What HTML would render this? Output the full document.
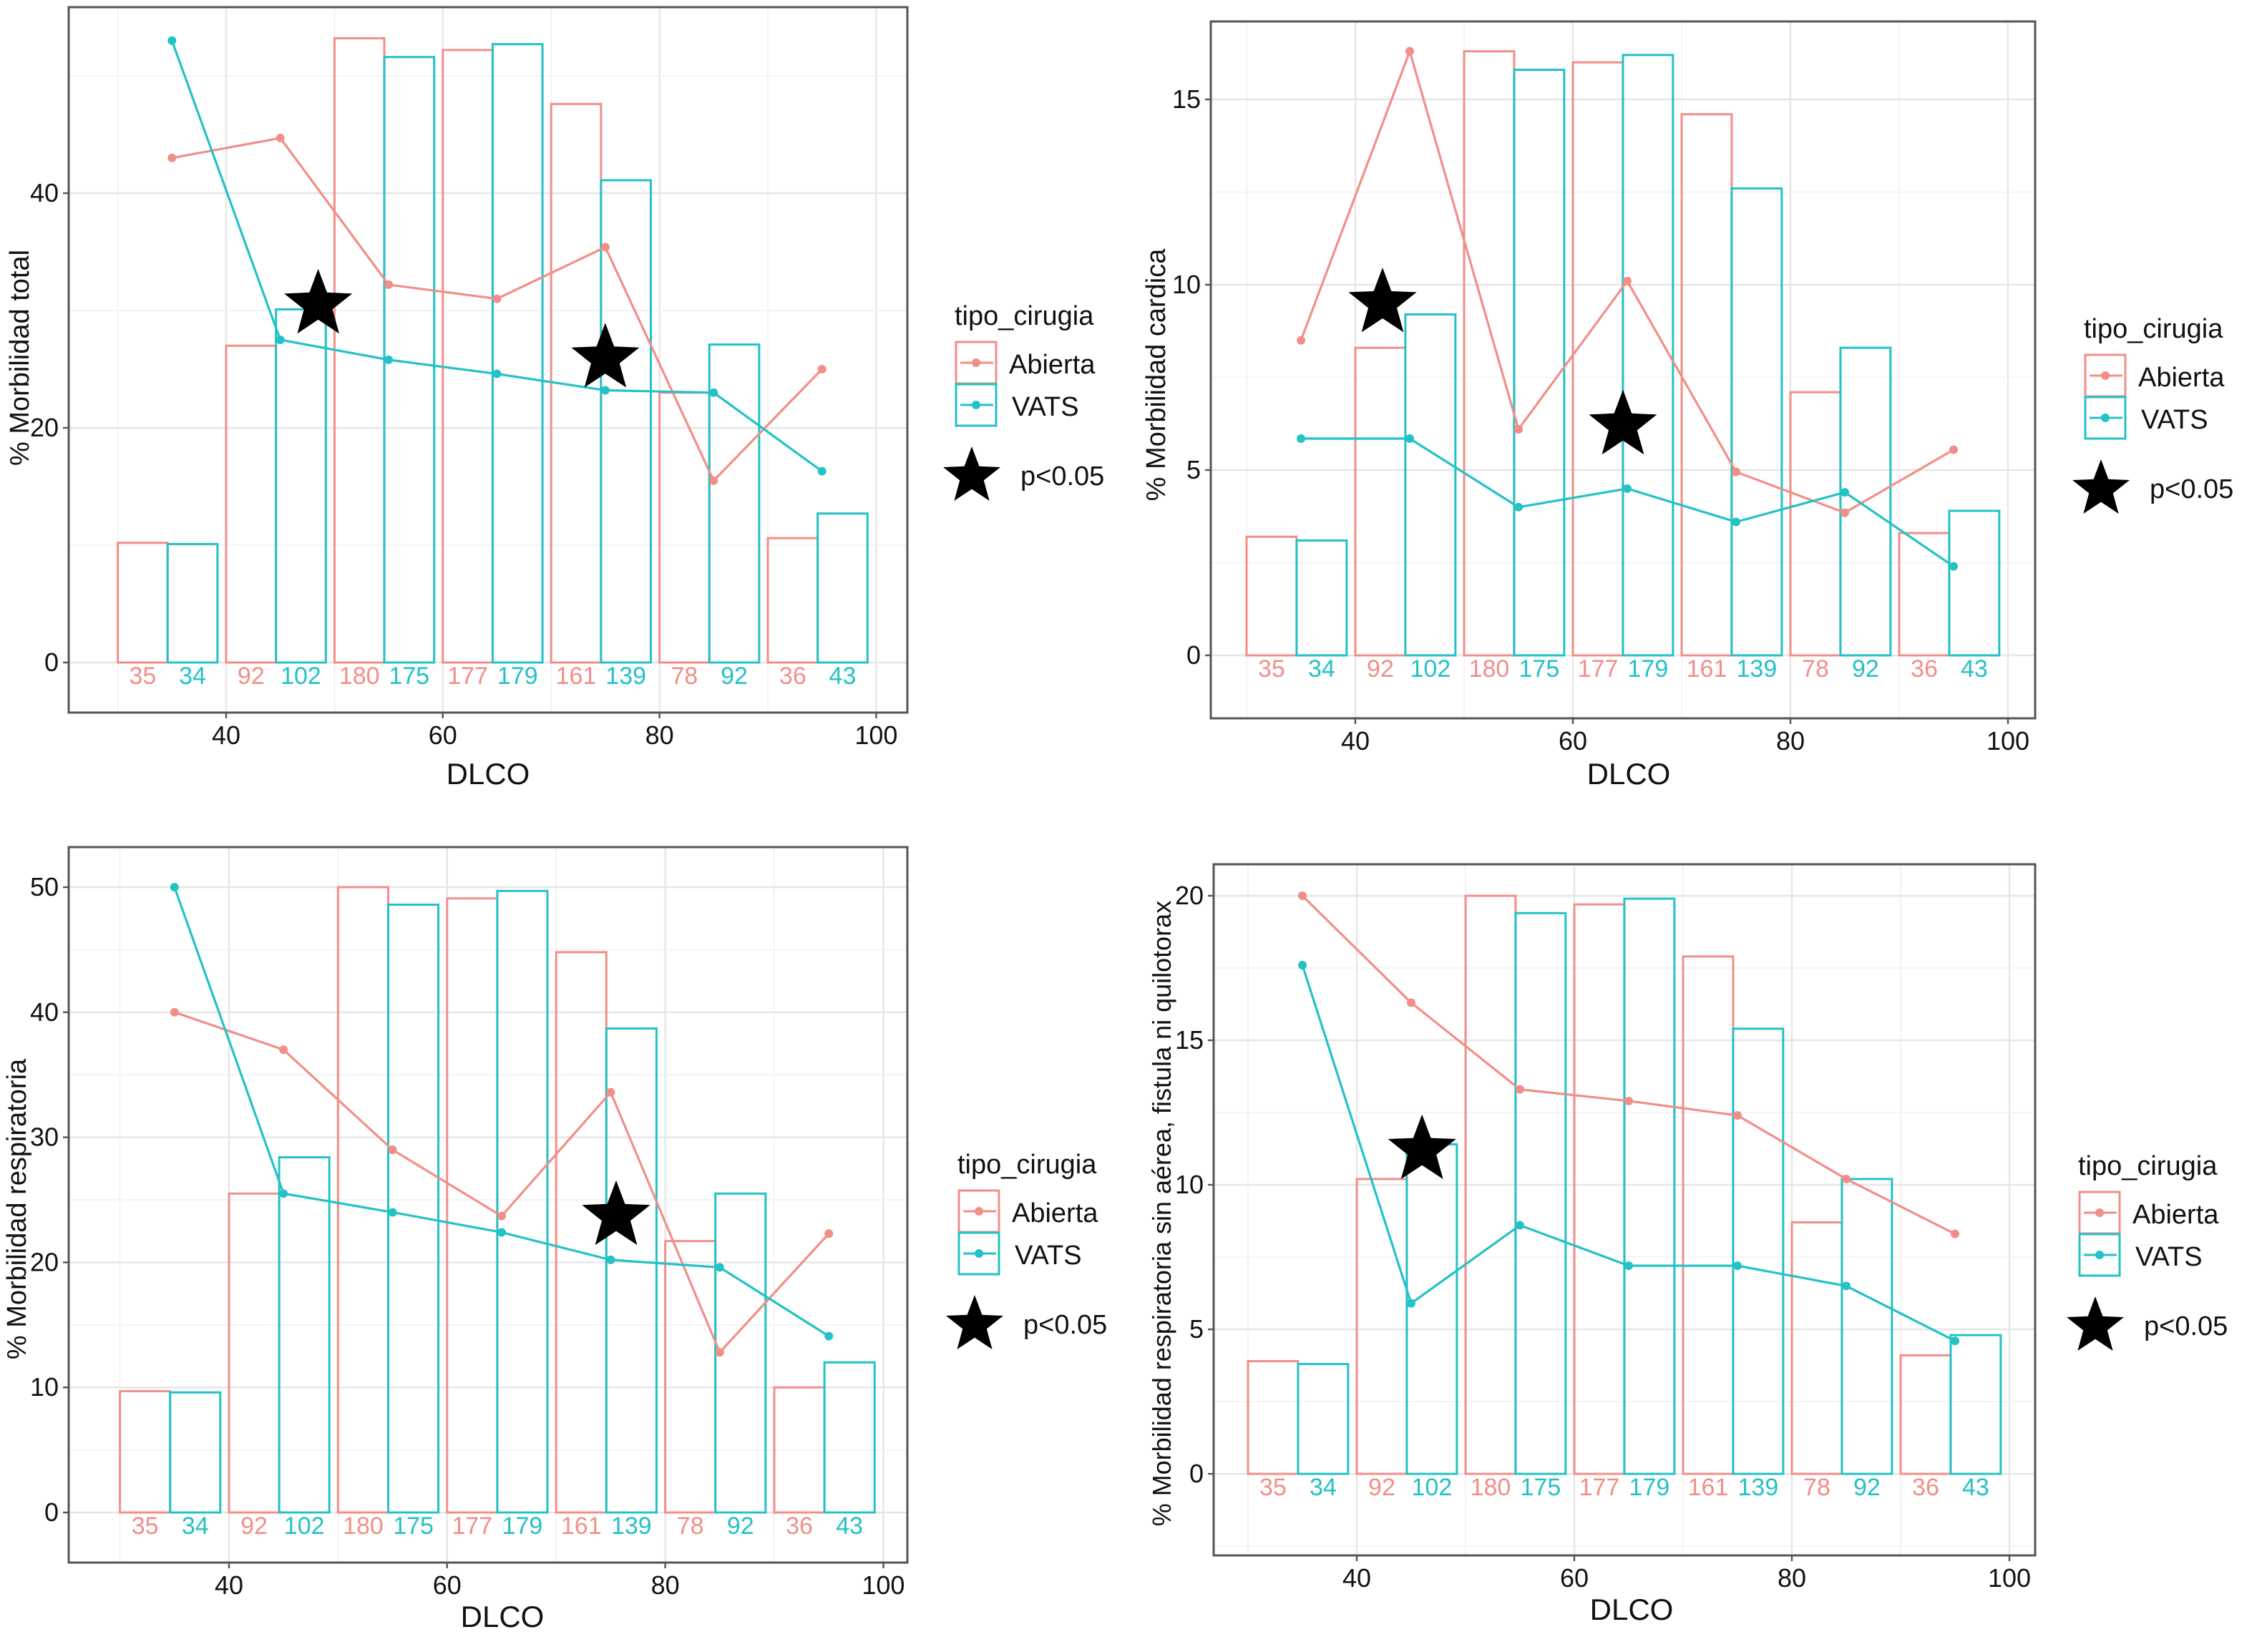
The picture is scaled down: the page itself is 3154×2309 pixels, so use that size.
<!DOCTYPE html>
<html><head><meta charset="utf-8"><style>
html,body{margin:0;padding:0;background:#fff;}
svg{display:block;font-family:"Liberation Sans",Arial,sans-serif;}
</style></head><body>
<svg id="chart" width="3154" height="2309" viewBox="0 0 1577 1154.5" preserveAspectRatio="none" xmlns="http://www.w3.org/2000/svg"></svg>
<script>
// Shared categories
const groups = [35, 45, 55, 65, 75, 85, 95];
const countsAbierta = ["35", "92", "180", "177", "161", "78", "36"];
const countsVats = ["34", "102", "175", "179", "139", "92", "43"];
const xTicks = [40, 60, 80, 100];

// Panel 1: Morbilidad total
const p1BarsAbierta = [10.2, 27, 53.2, 52.2, 47.6, 23, 10.6];
const p1BarsVats = [10.1, 30.1, 51.6, 52.7, 41.1, 27.1, 12.7];
const p1LineAbierta = [43, 44.7, 32.2, 31, 35.4, 15.5, 25];
const p1LineVats = [53, 27.5, 25.8, 24.6, 23.2, 23, 16.3];
const p1YTicks = [0, 20, 40];
const p1Stars = [[48.5, 30.5], [75, 25.9]];

// Panel 2: Morbilidad cardica
const p2BarsAbierta = [3.2, 8.3, 16.3, 16, 14.6, 7.1, 3.3];
const p2BarsVats = [3.1, 9.2, 15.8, 16.2, 12.6, 8.3, 3.9];
const p2LineAbierta = [8.5, 16.3, 6.1, 10.1, 4.95, 3.85, 5.55];
const p2LineVats = [5.85, 5.85, 4.0, 4.5, 3.6, 4.4, 2.4];
const p2YTicks = [0, 5, 10, 15];
const p2Stars = [[42.5, 9.5], [64.6, 6.2]];

// Panel 3: Morbilidad respiratoria
const p3BarsAbierta = [9.7, 25.5, 50, 49.1, 44.8, 21.7, 10];
const p3BarsVats = [9.6, 28.4, 48.6, 49.7, 38.7, 25.5, 12];
const p3LineAbierta = [40, 37, 29, 23.7, 33.6, 12.8, 22.3];
const p3LineVats = [50, 25.5, 24, 22.4, 20.2, 19.6, 14.1];
const p3YTicks = [0, 10, 20, 30, 40, 50];
const p3Stars = [[75.5, 23.7]];

// Panel 4: Morbilidad respiratoria sin aerea...
const p4BarsAbierta = [3.9, 10.2, 20, 19.7, 17.9, 8.7, 4.1];
const p4BarsVats = [3.8, 11.4, 19.4, 19.9, 15.4, 10.2, 4.8];
const p4LineAbierta = [20, 16.3, 13.3, 12.9, 12.4, 10.2, 8.3];
const p4LineVats = [17.6, 5.9, 8.6, 7.2, 7.2, 6.5, 4.6];
const p4YTicks = [0, 5, 10, 15, 20];
const p4Stars = [[46, 11.2]];

const PINK = "#f28e88", TEAL = "#22c2c6";
const svg = document.getElementById('chart');
const NS = "http://www.w3.org/2000/svg";
function mk(tag, attrs, parent) {
  const e = document.createElementNS(NS, tag);
  for (const k in attrs) e.setAttribute(k, attrs[k]);
  (parent || svg).appendChild(e);
  return e;
}
function starPts(cx, cy, R) {
  const r = R * 0.42; let p = [];
  for (let i = 0; i < 10; i++) {
    const a = -Math.PI / 2 + i * Math.PI / 5, rr = i % 2 ? r : R;
    p.push((cx + rr * Math.cos(a)).toFixed(1) + "," + (cy + rr * Math.sin(a)).toFixed(1));
  }
  return p.join(" ");
}

function panel(cfg) {
  const g = mk('g', {});
  
  
  // x scale: x40 -> px, 7.6 px/unit
  const X = v => cfg.x40 + (v - 40) * cfg.xs;
  const Y = v => cfg.y0 - v * cfg.ys;
  const b = cfg.box;
  // plot bg
  mk('rect', {x: b[0], y: b[1], width: b[2] - b[0], height: b[3] - b[1], fill: '#fff'}, g);
  // grid minor
  const xmin = 40 - (X(40) - b[0]) / cfg.xs, xmax = 40 + (b[2] - X(40)) / cfg.xs;
  for (let v = 30; v <= 110; v += 10) {
    const px = X(v);
    if (px > b[0] && px < b[2]) {
      const major = v % 20 === 0;
      const l = mk('line', {x1: px, x2: px, y1: b[1], y2: b[3], stroke: major ? '#e6e6e6' : '#f1f1f1', 'stroke-width': major ? 1.2 : 0.8}, g);
      
      
    }
  }
  const step = cfg.yTicks[1] - cfg.yTicks[0];
  for (let v = -step / 2; Y(v) > b[1]; v += step / 2) {
    const py = Y(v);
    if (py < b[3]) {
      const major = Math.abs(Math.round(v / step) * step - v) < 1e-6;
      const l = mk('line', {x1: b[0], x2: b[2], y1: py, y2: py, stroke: major ? '#e6e6e6' : '#f1f1f1', 'stroke-width': major ? 1.2 : 0.8}, g);
      
      
    }
  }
  // bars
  groups.forEach((c, i) => {
    const cc = c - 0.4;
    const ra = mk('rect', {x: X(cc - 4.6), y: Y(cfg.ba[i]), width: 4.6 * cfg.xs, height: cfg.ba[i] * cfg.ys, fill: 'none', stroke: PINK, 'stroke-width': 1.5}, g);
    
    
    const rv = mk('rect', {x: X(cc), y: Y(cfg.bv[i]), width: 4.6 * cfg.xs, height: cfg.bv[i] * cfg.ys, fill: 'none', stroke: TEAL, 'stroke-width': 1.5}, g);
    
    
    const ta = mk('text', {x: X(cc - 2.3), y: cfg.y0 + 15, 'text-anchor': 'middle', 'font-size': 17, fill: PINK}, g);
    ta.textContent = countsAbierta[i];
    
    
    const tv = mk('text', {x: X(cc + 2.3), y: cfg.y0 + 15, 'text-anchor': 'middle', 'font-size': 17, fill: TEAL}, g);
    tv.textContent = countsVats[i];
    
    
  });
  // lines
  [[cfg.la, PINK, 'abierta'], [cfg.lv, TEAL, 'vats']].forEach(([arr, col, nm]) => {
    const pl = mk('polyline', {points: groups.map((c, i) => X(c) + "," + Y(arr[i])).join(" "), fill: 'none', stroke: col, 'stroke-width': 1.6}, g);
    
    
    groups.forEach((c, i) => {
      const d = mk('circle', {cx: X(c), cy: Y(arr[i]), r: 3, fill: col}, g);
      
      
    });
  });
  // stars
  cfg.stars.forEach(s => {
    const st = mk('polygon', {points: starPts(X(s[0]), Y(s[1]), 25), fill: '#000'}, g);
    
    
  });
  // border
  const br = mk('rect', {x: b[0], y: b[1], width: b[2] - b[0], height: b[3] - b[1], fill: 'none', stroke: '#555', 'stroke-width': 1.5}, g);
  
  
  // y ticks
  cfg.yTicks.forEach(v => {
    mk('line', {x1: b[0] - 4, x2: b[0], y1: Y(v), y2: Y(v), stroke: '#555', 'stroke-width': 1.2}, g);
    const t = mk('text', {x: b[0] - 7, y: Y(v) + 6, 'text-anchor': 'end', 'font-size': 18, fill: '#111'}, g);
    t.textContent = v;
    
    
  });
  xTicks.forEach(v => {
    mk('line', {x1: X(v), x2: X(v), y1: b[3], y2: b[3] + 4, stroke: '#555', 'stroke-width': 1.2}, g);
    const t = mk('text', {x: X(v), y: b[3] + 22, 'text-anchor': 'middle', 'font-size': 18, fill: '#111'}, g);
    t.textContent = v;
    
    
  });
  const xt = mk('text', {x: cfg.xlab[0], y: cfg.xlab[1], 'text-anchor': 'middle', 'font-size': 21, fill: '#111'}, g);
  xt.textContent = 'DLCO';
  
  
  const yt = mk('text', {x: 0, y: 0, 'text-anchor': 'middle', 'font-size': cfg.yfs || 19, fill: '#111', transform: `translate(${cfg.ylab[0]},${cfg.ylab[1]}) rotate(-90)`}, g);
  yt.textContent = cfg.ytitle;
  
  
  // legend
  const L = cfg.leg;
  const lg = mk('g', {}, g);
  
  
  const lt = mk('text', {x: L[0], y: L[1], 'font-size': 19, fill: '#111'}, lg);
  lt.textContent = 'tipo_cirugia';
  
  
  [['Abierta', PINK, 0], ['VATS', TEAL, 1]].forEach(([nm, col, k]) => {
    const y = L[1] + 12 + k * 29.5;
    const e = mk('g', {}, lg);
    
    
    mk('rect', {x: L[0] + 1, y: y, width: 28, height: 29, fill: 'none', stroke: col, 'stroke-width': 1.5}, e);
    mk('line', {x1: L[0] + 4, x2: L[0] + 27, y1: y + 14.5, y2: y + 14.5, stroke: col, 'stroke-width': 1.5}, e);
    mk('circle', {cx: L[0] + 15, cy: y + 14.5, r: 3, fill: col}, e);
    const t = mk('text', {x: L[0] + 38 - k * (-2), y: y + 22, 'font-size': 19, fill: '#111'}, e);
    t.textContent = nm;
  });
  const ps = mk('polygon', {points: starPts(L[0] + 12, L[1] + 106, 21), fill: '#000'}, lg);
  
  
  const pt = mk('text', {x: L[0] + 46, y: L[1] + 112, 'font-size': 19, fill: '#111'}, lg);
  pt.textContent = 'p<0.05';
  
  
}

panel({name: 'panel-morbilidad-total', box: [48, 5, 634, 498], x40: 158, xs: 7.57, y0: 463, ys: 8.2,
  ba: p1BarsAbierta, bv: p1BarsVats, la: p1LineAbierta, lv: p1LineVats, yTicks: p1YTicks, stars: p1Stars,
  xlab: [341, 548], ylab: [20, 250], ytitle: '% Morbilidad total', leg: [667, 227]});
panel({name: 'panel-morbilidad-cardica', box: [846, 15, 1422, 502], x40: 947, xs: 7.6, y0: 458, ys: 25.9,
  ba: p2BarsAbierta, bv: p2BarsVats, la: p2LineAbierta, lv: p2LineVats, yTicks: p2YTicks, stars: p2Stars,
  xlab: [1138, 548], ylab: [814, 262], ytitle: '% Morbilidad cardica', leg: [1456, 236]});
panel({name: 'panel-morbilidad-respiratoria', box: [48, 592, 634, 1092], x40: 160, xs: 7.62, y0: 1057, ys: 8.74,
  ba: p3BarsAbierta, bv: p3BarsVats, la: p3LineAbierta, lv: p3LineVats, yTicks: p3YTicks, stars: p3Stars,
  xlab: [351, 1137], ylab: [18, 845], ytitle: '% Morbilidad respiratoria', leg: [669, 820]});
panel({name: 'panel-morbilidad-respiratoria-sin-aerea', box: [848, 604, 1422, 1087], x40: 948, xs: 7.6, y0: 1030, ys: 20.2,
  ba: p4BarsAbierta, bv: p4BarsVats, la: p4LineAbierta, lv: p4LineVats, yTicks: p4YTicks, stars: p4Stars,
  xlab: [1140, 1132], ylab: [818, 848], yfs: 18, ytitle: '% Morbilidad respiratoria sin aérea, fistula ni quilotorax', leg: [1452, 821]});
</script>
</body></html>
